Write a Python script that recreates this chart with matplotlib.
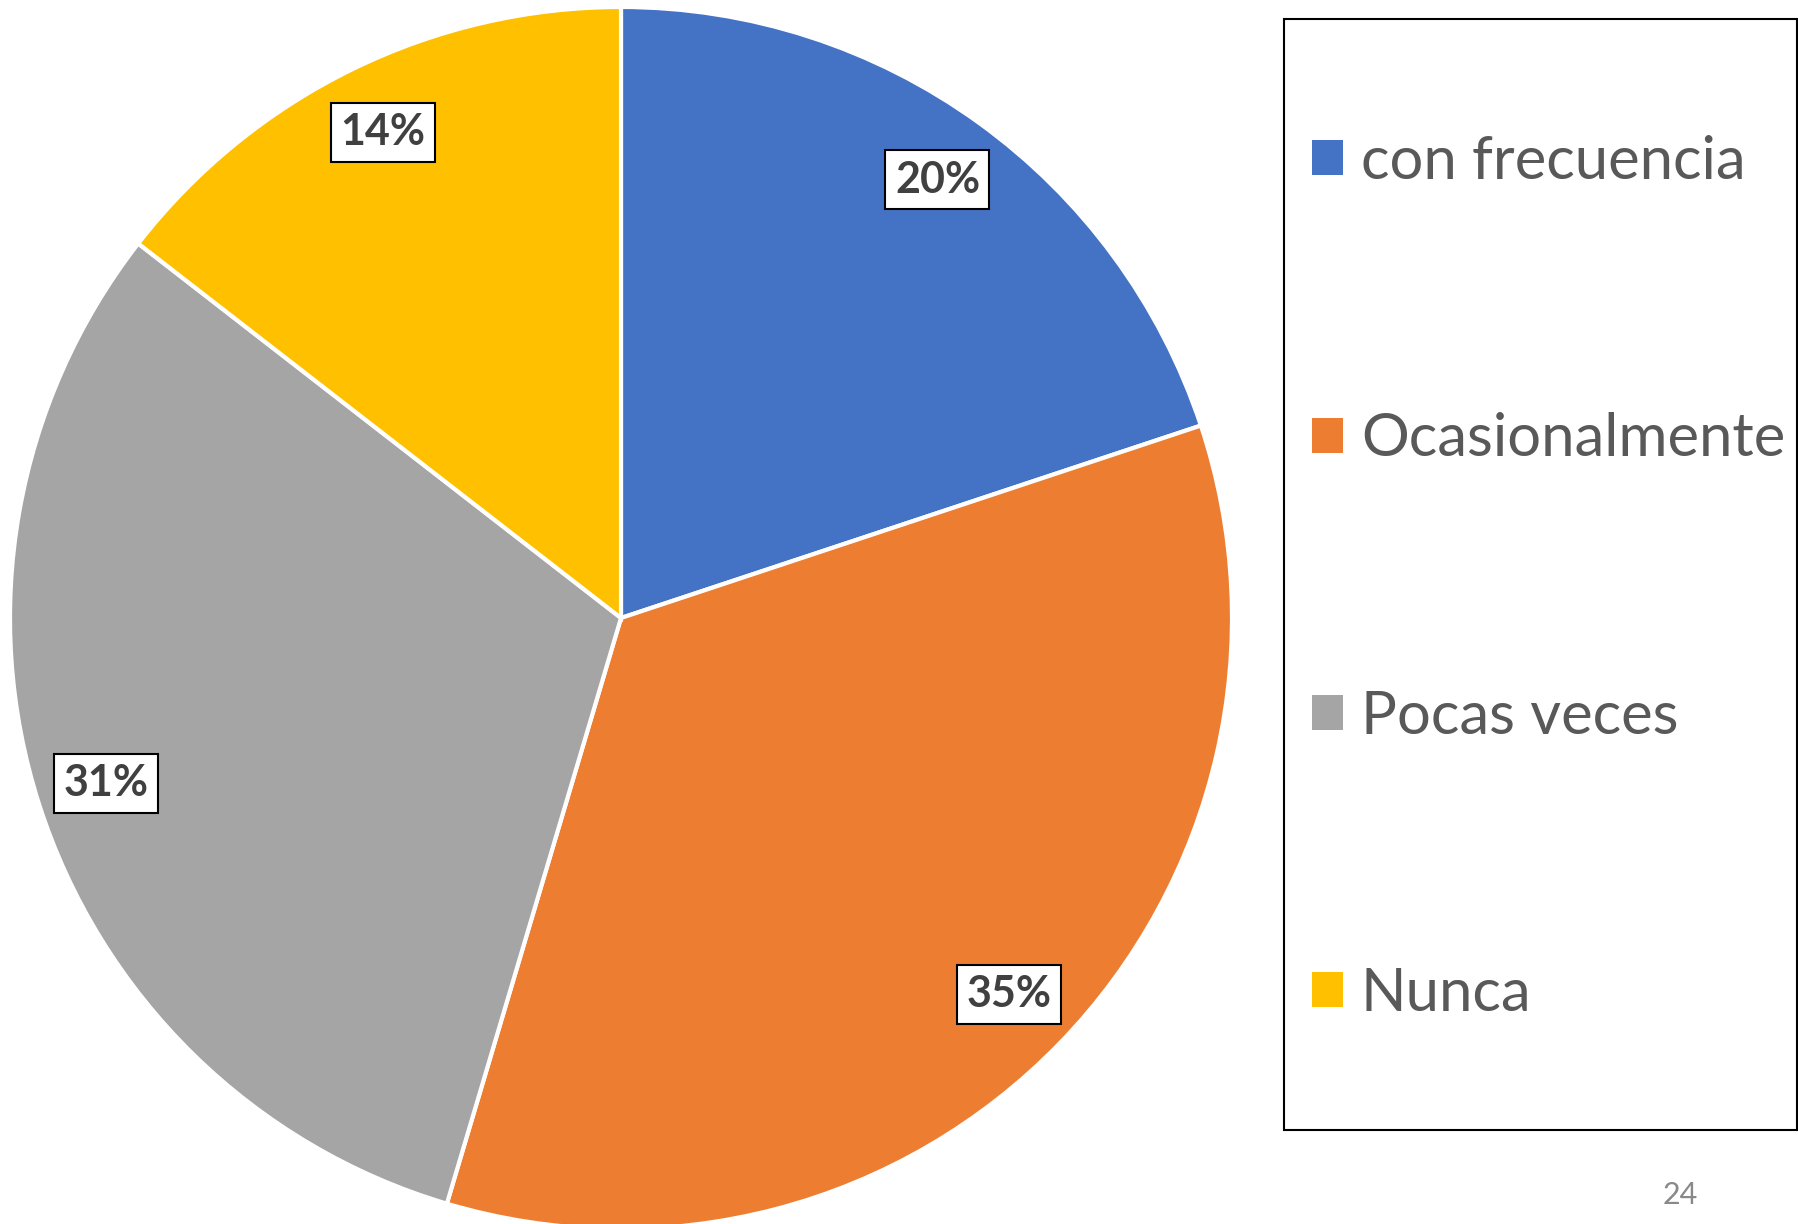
import matplotlib
matplotlib.use("Agg")
import matplotlib.pyplot as plt
from matplotlib.patches import Rectangle

categories = ["con frecuencia", "Ocasionalmente", "Pocas veces", "Nunca"]
values = [19.9, 34.7, 30.9, 14.5]
pct_labels = ["20%", "35%", "31%", "14%"]
colors = ["#4472C4", "#ED7D31", "#A5A5A5", "#FFC000"]
page_number = "24"

W, H = 1798, 1224
fig = plt.figure(figsize=(W / 100, H / 100), dpi=100)
fig.patch.set_facecolor("white")

cx, cy, r = 621, 618, 611
ax = fig.add_axes([(cx - r) / W, (H - cy - r) / H, 2 * r / W, 2 * r / H])
ax.set_axis_off()

lab_iter = iter(pct_labels)
wedges, texts, autotexts = ax.pie(
    values, colors=colors, startangle=90, counterclock=False, radius=1,
    autopct=lambda p: next(lab_iter), pctdistance=0.885,
    wedgeprops=dict(edgecolor="white", linewidth=3),
    textprops=dict(family="Lato", fontsize=31, fontweight="bold", color="#404040"),
)
for t in autotexts:
    t.set_bbox(dict(boxstyle="square,pad=0.22", facecolor="white", edgecolor="black", linewidth=1.5))
ax.set_xlim(-1, 1)
ax.set_ylim(-1, 1)
ax.set_aspect("equal")

# legend frame
fig.patches.append(Rectangle((1284 / W, 1 - 1130 / H), (1797 - 1284) / W, (1130 - 19) / H,
                             transform=fig.transFigure, facecolor="none", edgecolor="black",
                             linewidth=1.5, zorder=1))
fs = 43
fpx = fs * 100 / 72
leg = fig.legend(wedges, categories, loc="center left",
                 bbox_to_anchor=(1312 / W, 1 - 578 / H),
                 frameon=False, borderpad=0, borderaxespad=0,
                 handlelength=31 / fpx, handleheight=31 / fpx,
                 handletextpad=18 / fpx, labelspacing=3.74,
                 prop=dict(family="Lato", size=fs))
for t in leg.get_texts():
    t.set_color("#595959")
for h in leg.legend_handles:
    h.set_edgecolor("none")

fig.text(1680 / W, 1 - 1195 / H, page_number, fontsize=22, color="#898989",
         ha="center", va="center", family="Lato")

fig.savefig("out.png", dpi=100, facecolor="white")
